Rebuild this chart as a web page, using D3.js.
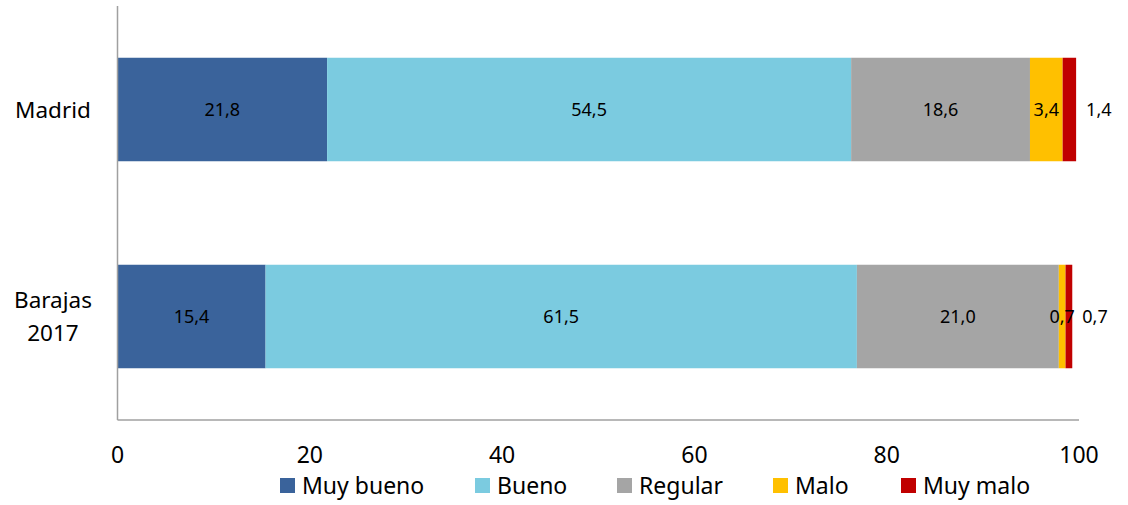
<!DOCTYPE html>
<meta charset="utf-8">
<style>
  body, html { margin: 0; padding: 0; background: #fff; }
  text { font-family: "Noto Sans", "Open Sans", sans-serif; fill: #000; }
</style>
<body>
<svg width="1128" height="505"></svg>
<script src="https://d3js.org/d3.v7.min.js"></script>
<script>
// data
var categories = ["Madrid", "Barajas 2017"];
var series = ["Muy bueno", "Bueno", "Regular", "Malo", "Muy malo"];
var madrid = [21.8, 54.5, 18.6, 3.4, 1.4];
var barajas = [15.4, 61.5, 21.0, 0.7, 0.7];
var xTicks = [0, 20, 40, 60, 80, 100];
var colors = ["#3A639B", "#7BCBE0", "#A5A5A5", "#FFC000", "#C00000"];

var svg = d3.select("svg");
var fmt = function(v) { return d3.format(".1f")(v).replace(".", ","); };

var x = d3.scaleLinear().domain([0, 100]).range([117.5, 1079]);
var y = d3.scaleBand().domain(categories).range([6, 420])
    .paddingInner(0.5).paddingOuter(0.25);
var z = d3.scaleOrdinal().domain(series).range(colors);

var rows = [madrid, barajas].map(function(vals, i) {
  var o = { cat: categories[i] };
  series.forEach(function(s, j) { o[s] = vals[j]; });
  return o;
});
var stacked = d3.stack().keys(series)(rows);

// bars
svg.selectAll(".serie")
  .data(stacked)
  .enter().append("g")
  .attr("class", "serie")
  .attr("fill", function(d) { return z(d.key); })
  .selectAll("rect")
  .data(function(d) { return d; })
  .enter().append("rect")
  .attr("x", function(d) { return x(d[0]); })
  .attr("y", function(d) { return y(d.data.cat); })
  .attr("width", function(d) { return x(d[1]) - x(d[0]); })
  .attr("height", y.bandwidth());

// value labels, drawn over all bars; last series sits outside the bar end
var points = [];
stacked.forEach(function(s) {
  s.forEach(function(p) { points.push({ key: s.key, p: p }); });
});

svg.append("g").attr("class", "labels")
  .selectAll("text")
  .data(points)
  .enter().append("text")
  .attr("x", function(d) {
    if (d.key === "Muy malo") return x(d.p[1]) + 10;
    return (x(d.p[0]) + x(d.p[1])) / 2;
  })
  .attr("y", function(d) { return y(d.p.data.cat) + y.bandwidth() / 2; })
  .attr("dy", "0.35em")
  .attr("text-anchor", function(d) { return d.key === "Muy malo" ? "start" : "middle"; })
  .style("font-size", "18px")
  .text(function(d) { return fmt(d.p[1] - d.p[0]); });

// axes lines
svg.append("line")
  .attr("x1", x(0)).attr("x2", x(0))
  .attr("y1", 6).attr("y2", 420)
  .attr("stroke", "#A0A0A0").attr("stroke-width", 1.5);
svg.append("line")
  .attr("x1", x(0)).attr("x2", x(100))
  .attr("y1", 420).attr("y2", 420)
  .attr("stroke", "#A0A0A0").attr("stroke-width", 1.5);

// x tick labels
svg.selectAll(".xtick")
  .data(xTicks)
  .enter().append("text")
  .attr("class", "xtick")
  .attr("x", function(d) { return x(d); })
  .attr("y", 463)
  .attr("text-anchor", "middle")
  .style("font-size", "23px")
  .text(function(d) { return d; });

// category labels
svg.selectAll(".cat")
  .data(categories)
  .enter().append("text")
  .attr("class", "cat")
  .attr("x", 53)
  .attr("y", function(d) { return y(d) + y.bandwidth() / 2; })
  .attr("text-anchor", "middle")
  .style("font-size", "22.5px")
  .each(function(d) {
    var words = d.split(" ");
    var t = d3.select(this);
    var lh = 33;
    var off = -(words.length - 1) * lh / 2 + 8;
    words.forEach(function(w, i) {
      t.append("tspan")
        .attr("x", 53)
        .attr("dy", i === 0 ? off : lh)
        .text(w);
    });
  });

// legend
var legendX = [280, 475, 617, 773, 901];
var legend = svg.selectAll(".legend")
  .data(series)
  .enter().append("g")
  .attr("class", "legend")
  .attr("transform", function(d, i) { return "translate(" + legendX[i] + ",478)"; });

legend.append("rect")
  .attr("width", 15)
  .attr("height", 15)
  .attr("fill", z);

legend.append("text")
  .attr("x", 22)
  .attr("y", 7.5)
  .attr("dy", "0.35em")
  .style("font-size", "23px")
  .text(function(d) { return d; });
</script>
</body>
